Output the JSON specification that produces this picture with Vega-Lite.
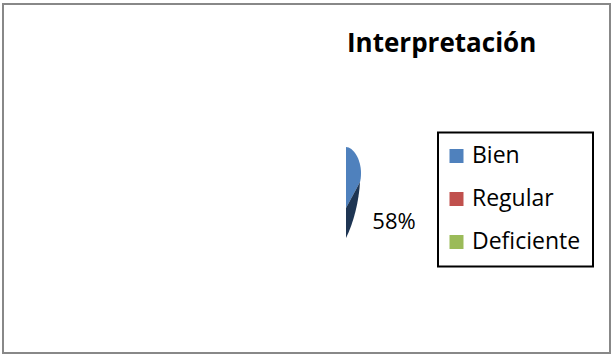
{
  "$schema": "https://vega.github.io/schema/vega-lite/v6.json",
  "width": 611,
  "height": 354,
  "autosize": {"type": "fit", "contains": "padding"},
  "padding": {"left": 3, "top": 4, "right": 1, "bottom": 1},
  "background": "white",
  "view": {"stroke": "#888888", "strokeWidth": 2},
  "title": {
    "text": "Interpretación",
    "anchor": "start",
    "frame": "group",
    "dx": 344,
    "offset": -74,
    "baseline": "alphabetic",
    "font": "Open Sans",
    "fontSize": 26,
    "fontWeight": "bold",
    "color": "black"
  },
  "data": {"values": [{"categoria": "Bien", "porcentaje": 0.58}]},
  "layer": [
    {
      "mark": {
        "type": "point",
        "filled": true,
        "opacity": 1,
        "size": 4,
        "strokeWidth": 0,
        "shape": "M0,-45 C7,-45 15,-33 15,-19 C15,-15 14.5,-12 14,-10 L0,16 Z",
        "x": {"expr": "width*0.5651"},
        "y": {"expr": "height*0.5387"}
      },
      "encoding": {
        "color": {
          "field": "categoria",
          "type": "nominal",
          "scale": {"domain": ["Bien", "Regular", "Deficiente"], "range": ["#4f81bd", "#c0504d", "#9bbb59"]},
          "legend": {
            "title": null,
            "orient": "none",
            "legendX": 435,
            "legendY": 128.5,
            "direction": "vertical",
            "symbolType": "square",
            "symbolSize": 196,
            "symbolStrokeWidth": 0,
            "symbolOpacity": 1,
            "symbolOffset": -5,
            "labelFont": "Open Sans",
            "labelFontSize": 23,
            "labelColor": "black",
            "labelOffset": 4,
            "rowPadding": 19,
            "padding": 12,
            "strokeColor": "black",
            "encode": {"legend": {"update": {"strokeWidth": {"value": 2}}}}
          }
        }
      }
    },
    {
      "mark": {
        "type": "point",
        "filled": true,
        "opacity": 1,
        "size": 4,
        "strokeWidth": 0,
        "color": "#1e3553",
        "shape": "M14,-10 C13,8 8,30 0,46 L0,16 Z",
        "x": {"expr": "width*0.5651"},
        "y": {"expr": "height*0.5387"}
      },
      "encoding": {}
    },
    {
      "mark": {
        "type": "text",
        "font": "Open Sans",
        "fontSize": 22,
        "color": "black",
        "align": "center",
        "baseline": "alphabetic",
        "x": {"expr": "width*0.5651"},
        "y": {"expr": "height*0.5387"},
        "dx": 48,
        "dy": 36.5
      },
      "encoding": {
        "text": {"field": "porcentaje", "type": "quantitative", "format": ".0%"}
      }
    }
  ]
}
